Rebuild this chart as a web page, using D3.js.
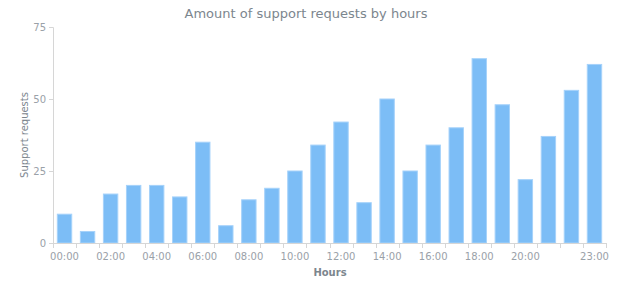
<!DOCTYPE html>
<html>
<head>
<meta charset="utf-8">
<script src="https://cdn.jsdelivr.net/npm/d3@7"></script>
<style>
  body { margin: 0; background: #fff; }
  text { font-family: "DejaVu Sans", Verdana, sans-serif; }
</style>
</head>
<body>
<div id="visContainer"></div>
<script>
// data
const hours = ["00:00","01:00","02:00","03:00","04:00","05:00","06:00","07:00",
  "08:00","09:00","10:00","11:00","12:00","13:00","14:00","15:00",
  "16:00","17:00","18:00","19:00","20:00","21:00","22:00","23:00"];
const requests = [10, 4, 17, 20, 20, 16, 35, 6, 15, 19, 25, 34, 42, 14, 50, 25, 34, 40, 64, 48, 22, 37, 53, 62];
const yTicks = [0, 25, 50, 75];
const shownLabels = ["00:00","02:00","04:00","06:00","08:00","10:00","12:00","14:00","16:00","18:00","20:00","23:00"];

const width = 620;
const height = 300;
const margin = {top: 27, right: 14, bottom: 57, left: 53};

const svg = d3
  .select("#visContainer")
  .append("svg")
  .attr("width", width)
  .attr("height", height);

const xScale = d3
  .scaleBand()
  .domain(hours)
  .range([margin.left, width - margin.right])
  .paddingInner(0.375)
  .paddingOuter(0.1875);

const yScale = d3
  .scaleLinear()
  .domain([0, 75])
  .range([height - margin.bottom, margin.top]);

const axisColor = "#d6d6d6";
const labelColor = "#9aa1a8";

// title
svg.append("text")
  .attr("x", 306)
  .attr("y", 18)
  .attr("text-anchor", "middle")
  .attr("font-size", 13)
  .attr("fill", "#7c868e")
  .text("Amount of support requests by hours");

// bars
svg.selectAll("rect.bar")
  .data(hours)
  .join("rect")
  .attr("class", "bar")
  .attr("x", (d) => xScale(d))
  .attr("y", (d, i) => yScale(requests[i]))
  .attr("width", xScale.bandwidth())
  .attr("height", (d, i) => yScale(0) - yScale(requests[i]))
  .attr("fill", "#7cbdf6")
  .attr("stroke", "#a6d2fa")
  .attr("stroke-width", 1);

// y axis
const yAxis = svg.append("g")
  .attr("transform", `translate(${margin.left}, 0)`)
  .call(d3.axisLeft(yScale).tickValues(yTicks).tickSize(4).tickPadding(3));
yAxis.select(".domain").attr("stroke", axisColor);
yAxis.selectAll(".tick line").attr("stroke", axisColor);
yAxis.selectAll(".tick text")
  .attr("fill", labelColor)
  .attr("font-size", 10)
  .attr("font-family", "DejaVu Sans");

// x axis: line + ticks on band edges, labels at band centres
const step = xScale.step();
const x0 = margin.left;
const edges = d3.range(hours.length + 1).map((i) => x0 + i * step);
const xg = svg.append("g");
xg.append("line")
  .attr("x1", x0)
  .attr("x2", width - margin.right)
  .attr("y1", yScale(0) + 0.5)
  .attr("y2", yScale(0) + 0.5)
  .attr("stroke", axisColor);
xg.selectAll("line.tick")
  .data(edges)
  .join("line")
  .attr("class", "tick")
  .attr("x1", (d) => Math.round(d) + 0.5)
  .attr("x2", (d) => Math.round(d) + 0.5)
  .attr("y1", yScale(0))
  .attr("y2", yScale(0) + 5)
  .attr("stroke", axisColor);
xg.selectAll("text")
  .data(shownLabels)
  .join("text")
  .attr("x", (d) => xScale(d) + xScale.bandwidth() / 2)
  .attr("y", yScale(0) + 17)
  .attr("text-anchor", "middle")
  .attr("font-size", 10)
  .attr("fill", labelColor)
  .text((d) => d);

// axis titles
svg.append("text")
  .attr("x", 330)
  .attr("y", 276)
  .attr("text-anchor", "middle")
  .attr("font-size", 10)
  .attr("font-weight", "bold")
  .attr("fill", "#7c868e")
  .text("Hours");

svg.append("text")
  .attr("transform", "translate(28, 135) rotate(-90)")
  .attr("text-anchor", "middle")
  .attr("font-size", 10)
  .attr("fill", "#7c868e")
  .text("Support requests");
</script>
</body>
</html>
